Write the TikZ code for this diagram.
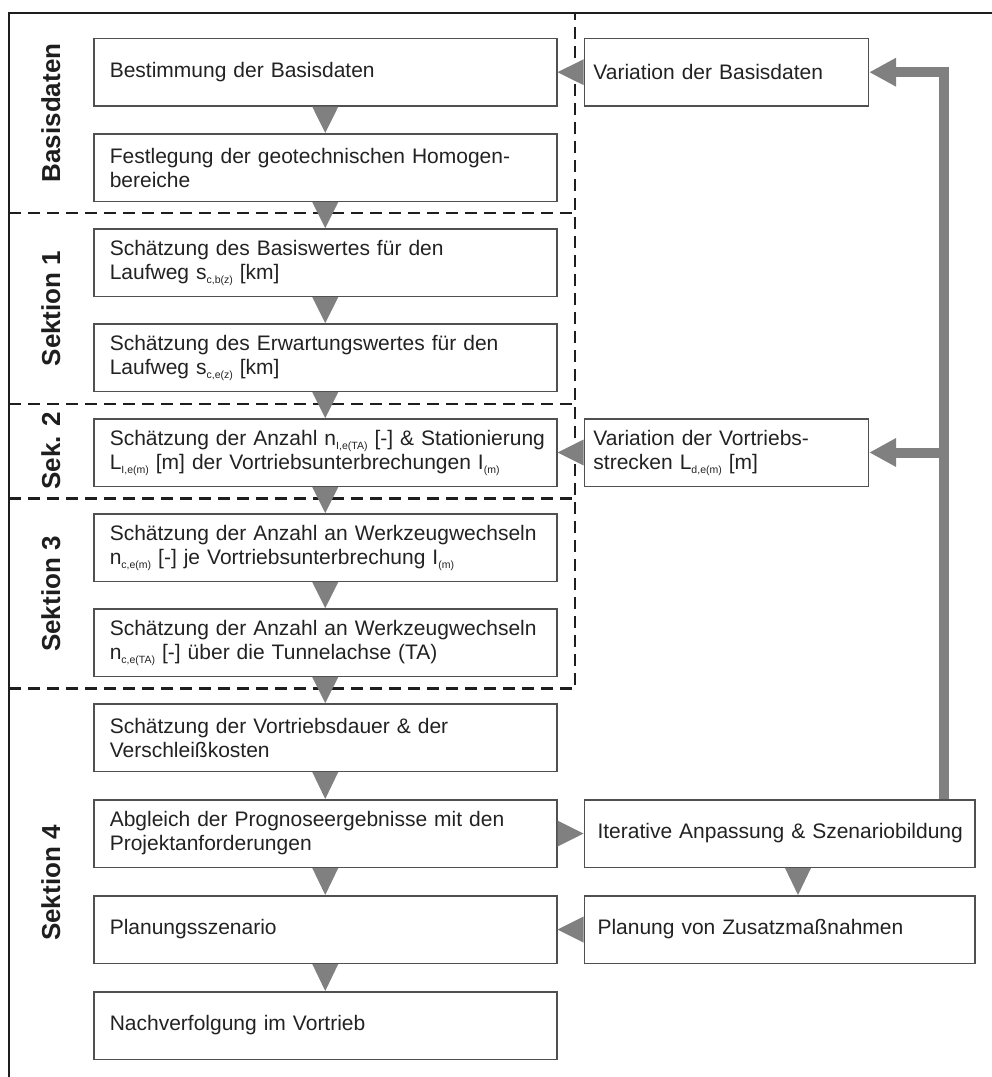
\documentclass[tikz,border=0pt]{standalone}
\usepackage{fontspec}
\setmainfont{Liberation Sans}
\usetikzlibrary{arrows.meta,calc}

\definecolor{flowgrey}{HTML}{808080}
\definecolor{boxline}{HTML}{505050}
\definecolor{txt}{HTML}{222222}
\definecolor{frameblack}{HTML}{1E1E1E}

% small lowered index
\newcommand\sub[1]{\raisebox{-4pt}{\fontsize{10.5}{10.5}\selectfont #1}}

\tikzset{
  anybox/.style={draw=boxline, line width=1.5pt, anchor=north west, inner ysep=0pt,
    minimum height=67.5pt, align=left, text=txt, font=\fontsize{21}{24}\selectfont},
  mainbox/.style={anybox, text width=431pt, inner xsep=16pt},
  varbox/.style={anybox, text width=266pt, inner xsep=9pt},
  sidebox/.style={anybox, text width=364pt, inner xsep=13.25pt},
  seclabel/.style={rotate=90, anchor=base, text=frameblack,
    font=\fontsize{26}{26}\selectfont\bfseries},
  framed/.style={frameblack, line width=2pt},
  sectionline/.style={frameblack, line width=2.5pt, dash pattern=on 12pt off 7pt},
  feedback/.style={flowgrey, line width=10pt, -{Triangle[length=27pt,width=27pt]}}
}

\begin{document}
\begin{tikzpicture}[x=1pt,y=-1pt]
\useasboundingbox (0,0) rectangle (992,1077);

% outer frame (top and left edges)
\draw[framed] (9,1077) -- (9,12.7) -- (992,12.7);

% section borders
\draw[sectionline] (9,688.5) -- (575,688.5) -- (575,12.7);
\foreach \yy in {213,404,498.5}
  \draw[sectionline] (9,\yy) -- (575,\yy);

% section labels
\node[seclabel] (lbasis) at (60,113) {Basisdaten};
\node[seclabel] (lsek1) at (60,308.5) {Sektion 1};
\node[seclabel] (lsek2) at (60,451) {Sek. 2};
\node[seclabel] (lsek3) at (60,594) {Sektion 3};
\node[seclabel] (lsek4) at (60,883) {Sektion 4};

% main column
\node[mainbox] (b1) at (93,37.7) {Bestimmung der Basisdaten};
\node[mainbox] (b2) at (93,133) {Festlegung der geotechnischen Homogen-\\bereiche};
\node[mainbox] (b3) at (93,228) {Schätzung des Basiswertes für den\\Laufweg s\sub{c,b(z)} [km]};
\node[mainbox] (b4) at (93,323) {Schätzung des Erwartungswertes für den\\Laufweg s\sub{c,e(z)} [km]};
\node[mainbox] (b5) at (93,418) {\mbox{Schätzung der Anzahl n\sub{I,e(TA)} [-] \& Stationierung}\\\mbox{L\sub{I,e(m)} [m] der Vortriebsunterbrechungen I\sub{(m)}}};
\node[mainbox] (b6) at (93,513) {\mbox{Schätzung der Anzahl an Werkzeugwechseln}\\\mbox{n\sub{c,e(m)} [-] je Vortriebsunterbrechung I\sub{(m)}}};
\node[mainbox] (b7) at (93,608) {\mbox{Schätzung der Anzahl an Werkzeugwechseln}\\\mbox{n\sub{c,e(TA)} [-] über die Tunnelachse (TA)}};
\node[mainbox] (b8) at (93,703) {Schätzung der Vortriebsdauer \& der\\Verschleißkosten};
\node[mainbox] (b9) at (93,799) {Abgleich der Prognoseergebnisse mit den\\Projektanforderungen};
\node[mainbox] (b10) at (93,895) {Planungsszenario};
\node[mainbox] (b11) at (93,991) {Nachverfolgung im Vortrieb};

% right column
\node[varbox] (vb) at (583.7,37.7) {Variation der Basisdaten};
\node[varbox] (vv) at (583.7,418) {Variation der Vortriebs-\\strecken L\sub{d,e(m)} [m]};
\node[sidebox] (iter) at (583.5,799) {\mbox{Iterative Anpassung \& Szenariobildung}};
\node[sidebox] (pz) at (583.5,895) {Planung von Zusatzmaßnahmen};

% downward flow arrows in the main column
\foreach \a/\b in {b1/b2,b2/b3,b3/b4,b4/b5,b5/b6,b6/b7,b7/b8,b8/b9,b9/b10,b10/b11}
  \fill[flowgrey] ($(\a.south)+(-13,0)$) -- ($(\a.south)+(13,0)$) -- (\b.north) -- cycle;

% sideways arrows between the columns
\fill[flowgrey] ($(vb.west)+(0,-13)$) -- ($(vb.west)+(0,13)$) -- (b1.east) -- cycle;
\fill[flowgrey] ($(vv.west)+(0,-13)$) -- ($(vv.west)+(0,13)$) -- (b5.east) -- cycle;
\fill[flowgrey] ($(b9.east)+(0,-13)$) -- ($(b9.east)+(0,13)$) -- (iter.west) -- cycle;
\fill[flowgrey] ($(pz.west)+(0,-13)$) -- ($(pz.west)+(0,13)$) -- (b10.east) -- cycle;

% iteration to additional measures
\coordinate (tx) at (798,0);
\fill[flowgrey] ($(iter.south -| tx)+(-13,0)$) -- ($(iter.south -| tx)+(13,0)$) -- (pz.north -| tx) -- cycle;

% feedback loop
\coordinate (turn) at (944,0);
\draw[feedback] (iter.north -| turn) |- (vb.east);
\draw[feedback] (turn |- vv.east) -- (vv.east);
\end{tikzpicture}
\end{document}
